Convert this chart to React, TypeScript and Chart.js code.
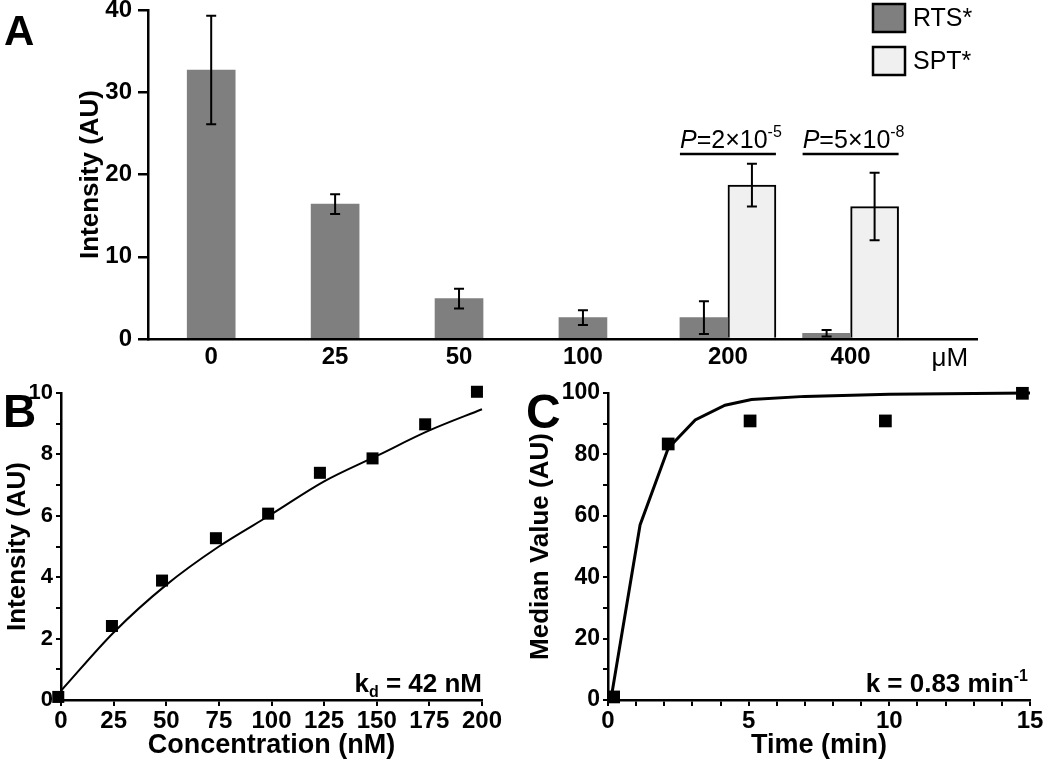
import React, { useEffect, useRef } from 'react';
import { Chart, registerables } from 'chart.js';
Chart.register(...registerables);

const FF = "'Liberation Sans', Arial, Helvetica, sans-serif";
const boldFont = (s: number) => ({ family: FF, size: s, weight: 'bold' as const });

// ---------- Panel A ----------
const doseLabels = ['0', '25', '50', '100', '200', '400'];
const doseUnit = 'μM';
const doseSlots = [0, 1, 2, 3, 4.17, 5.16];
const unitSlot = 5.96;
const seriesNames = ['RTS*', 'SPT*'];
const rtsMean = [32.7, 16.4, 4.9, 2.6, 2.6, 0.7];
const rtsErr = [6.6, 1.2, 1.2, 0.9, 2.0, 0.4];
const sptMean = [null, null, null, null, 18.7, 16.1];
const sptErr = [null, null, null, null, 2.6, 4.1];
const pSlotIndex = [4, 5];
const pMantissa = ['2', '5'];
const pExponent = ['-5', '-8'];
const pLevel = 22.5;

// ---------- Panel B ----------
const bConc = [-1.3, 24.2, 48, 73.6, 98.4, 123, 148, 173, 197.6];
const bIntensity = [0.1, 2.41, 3.89, 5.27, 6.07, 7.4, 7.87, 8.98, 10.04];
const bFitConc = [0, 25, 50, 75, 100, 125, 150, 175, 200];
const bFitIntensity = [0.3, 2.2, 3.75, 5.0, 6.05, 7.12, 7.95, 8.78, 9.47];

// ---------- Panel C ----------
const cTime = [0.2, 2.14, 5.05, 9.86, 14.73];
const cMedian = [1, 83.4, 90.9, 90.9, 99.9];
const cFitTime = [0.1, 1.14, 2.14, 3.1, 4.16, 5.1, 7, 10, 15];
const cFitMedian = [0, 57, 82, 91.2, 96, 97.9, 98.9, 99.6, 100];

type Seg = { t: string; font: string; dy?: number };
function drawSegs(ctx: CanvasRenderingContext2D, segs: Seg[], x: number, y: number, align: 'left' | 'right' | 'center') {
  ctx.save();
  ctx.textBaseline = 'alphabetic';
  ctx.textAlign = 'left';
  ctx.fillStyle = '#000';
  let w = 0;
  for (const s of segs) { ctx.font = s.font; w += ctx.measureText(s.t).width; }
  let cx = align === 'left' ? x : align === 'right' ? x - w : x - w / 2;
  for (const s of segs) {
    ctx.font = s.font;
    ctx.fillText(s.t, cx, y + (s.dy || 0));
    cx += ctx.measureText(s.t).width;
  }
  ctx.restore();
}

function letter(ctx: CanvasRenderingContext2D, t: string, x: number, y: number, size: number) {
  ctx.save();
  ctx.font = `bold ${size}px ${FF}`;
  ctx.fillStyle = '#000';
  ctx.textAlign = 'left';
  ctx.textBaseline = 'alphabetic';
  ctx.fillText(t, x, y);
  ctx.restore();
}

const zeroPad = (s: any) => { s.paddingTop = 0; s.paddingBottom = 0; s.paddingLeft = 0; s.paddingRight = 0; };

export default function App() {
  const refA = useRef<HTMLCanvasElement>(null);
  const refB = useRef<HTMLCanvasElement>(null);
  const refC = useRef<HTMLCanvasElement>(null);

  useEffect(() => {
    const errorBars = {
      id: 'errorBars',
      afterDatasetsDraw(chart: any) {
        const ctx = chart.ctx;
        const ys = chart.scales.y;
        chart.data.datasets.forEach((ds: any, i: number) => {
          const meta = chart.getDatasetMeta(i);
          meta.data.forEach((bar: any, j: number) => {
            const m = ds.means[j];
            const e = ds.errors[j];
            if (m == null || e == null) return;
            const top = ys.getPixelForValue(m + e);
            const bot = ys.getPixelForValue(Math.max(m - e, 0));
            ctx.save();
            ctx.strokeStyle = '#000';
            ctx.lineWidth = 2;
            ctx.beginPath();
            ctx.moveTo(bar.x, top); ctx.lineTo(bar.x, bot);
            ctx.moveTo(bar.x - 5, top); ctx.lineTo(bar.x + 5, top);
            ctx.moveTo(bar.x - 5, bot); ctx.lineTo(bar.x + 5, bot);
            ctx.stroke();
            ctx.restore();
          });
        });
      },
    };

    const annotA = {
      id: 'annotA',
      afterDraw(chart: any) {
        const ctx = chart.ctx;
        const ca = chart.chartArea;
        const ys = chart.scales.y;
        letter(ctx, 'A', 4, 45, 42);
        // legend
        const bx = ca.right - 104;
        chart.data.datasets.forEach((ds: any, i: number) => {
          const by = ca.top - 6 + i * 43;
          ctx.save();
          ctx.fillStyle = ds.backgroundColor;
          ctx.fillRect(bx, by, 32, 28);
          ctx.strokeStyle = '#000';
          ctx.lineWidth = 2.5;
          ctx.strokeRect(bx, by, 32, 28);
          ctx.font = `25px ${FF}`;
          ctx.fillStyle = '#000';
          ctx.textBaseline = 'middle';
          ctx.textAlign = 'left';
          ctx.fillText(ds.label, bx + 40, by + 15);
          ctx.restore();
        });
        // p-value annotations
        const m0 = chart.getDatasetMeta(0);
        const m1 = chart.getDatasetMeta(1);
        pSlotIndex.forEach((k, n) => {
          const b0 = m0.data[k];
          const b1 = m1.data[k];
          const left = b0.x - b0.width / 2;
          const right = b1.x + b1.width / 2;
          const yl = ys.getPixelForValue(pLevel);
          ctx.save();
          ctx.strokeStyle = '#000';
          ctx.lineWidth = 2.5;
          ctx.beginPath();
          ctx.moveTo(left, yl); ctx.lineTo(right, yl);
          ctx.stroke();
          ctx.restore();
          drawSegs(ctx, [
            { t: 'P', font: `italic 25px ${FF}` },
            { t: '=' + pMantissa[n] + '×10', font: `25px ${FF}` },
            { t: pExponent[n], font: `16px ${FF}`, dy: -11 },
          ], (left + right) / 2 + 3, yl - 6, 'center');
        });
      },
    };

    const chartA = new Chart(refA.current!, {
      type: 'bar',
      data: {
        datasets: [
          {
            label: seriesNames[0],
            data: doseSlots.map((x, i) => ({ x, y: rtsMean[i] })) as any,
            means: rtsMean, errors: rtsErr,
            backgroundColor: '#7f7f7f', borderWidth: 0, barThickness: 48, skipNull: true,
          } as any,
          {
            label: seriesNames[1],
            data: doseSlots.map((x, i) => ({ x, y: sptMean[i] })) as any,
            means: sptMean, errors: sptErr,
            backgroundColor: '#f0f0f0', borderColor: '#000', borderWidth: 2, barThickness: 48, skipNull: true,
          } as any,
        ],
      },
      options: {
        animation: false,
        responsive: false,
        devicePixelRatio: 1,
        layout: { padding: { left: 0, top: 10, right: 73, bottom: 0 } },
        plugins: { legend: { display: false }, tooltip: { enabled: false } },
        scales: {
          x: {
            type: 'linear', min: -0.51, max: 6.18, offset: false,
            afterBuildTicks: (s: any) => { s.ticks = [...doseSlots, unitSlot].map((v) => ({ value: v })); },
            afterFit: (s: any) => { s.height = 36; zeroPad(s); },
            ticks: {
              autoSkip: false, maxRotation: 0, color: '#000', padding: 4,
              callback: (_v: any, i: number) => (i < doseLabels.length ? doseLabels[i] : doseUnit),
              font: (c: any) => (c.index === doseLabels.length ? { family: FF, size: 26 } : boldFont(24)),
            },
            grid: { display: false, drawTicks: false },
            border: { color: '#000', width: 2.5 },
          } as any,
          y: {
            min: 0, max: 40,
            afterFit: (s: any) => { s.width = 148; zeroPad(s); },
            ticks: { stepSize: 10, color: '#000', font: boldFont(24), padding: 6 },
            grid: { drawOnChartArea: false, drawTicks: true, tickLength: 10, color: '#000', lineWidth: 2.5 },
            border: { color: '#000', width: 2.5 },
            title: { display: true, text: 'Intensity (AU)', color: '#000', font: boldFont(26), padding: { top: 75, bottom: 0 } },
          } as any,
        },
      },
      plugins: [errorBars, annotA],
    } as any);

    const annotB = {
      id: 'annotB',
      afterDraw(chart: any) {
        const ctx = chart.ctx;
        const ca = chart.chartArea;
        letter(ctx, 'B', 3, 52, 46);
        drawSegs(ctx, [
          { t: 'k', font: `bold 26px ${FF}` },
          { t: 'd', font: `bold 16px ${FF}`, dy: 5 },
          { t: ' = 42 nM', font: `bold 26px ${FF}` },
        ], ca.right, ca.bottom - 8, 'right');
      },
    };

    const chartB = new Chart(refB.current!, {
      type: 'scatter',
      data: {
        datasets: [
          {
            data: bFitConc.map((x, i) => ({ x, y: bFitIntensity[i] })),
            showLine: true, borderColor: '#000', borderWidth: 2, pointRadius: 0,
            cubicInterpolationMode: 'monotone', order: 2, clip: false,
          } as any,
          {
            data: bConc.map((x, i) => ({ x, y: bIntensity[i] })),
            showLine: false, pointStyle: 'rect', pointRadius: 8.5,
            backgroundColor: '#000', borderColor: '#000', borderWidth: 0, order: 1, clip: false,
          } as any,
        ],
      },
      options: {
        animation: false,
        responsive: false,
        devicePixelRatio: 1,
        layout: { padding: { left: 0, top: 18, right: 43, bottom: 0 } },
        plugins: { legend: { display: false }, tooltip: { enabled: false } },
        scales: {
          x: {
            type: 'linear', min: 0, max: 200,
            afterFit: (s: any) => { s.height = 62; zeroPad(s); },
            ticks: { stepSize: 25, color: '#000', font: boldFont(24), padding: 1, maxRotation: 0, autoSkip: false },
            grid: { drawOnChartArea: false, tickLength: 6, color: '#000', lineWidth: 2 },
            border: { color: '#000', width: 2.5 },
            title: { display: true, text: 'Concentration (nM)', color: '#000', font: boldFont(27), padding: { top: 0, bottom: 0 } },
          } as any,
          y: {
            min: 0, max: 10,
            afterFit: (s: any) => { s.width = 61; zeroPad(s); },
            ticks: {
              stepSize: 1, color: '#000', font: boldFont(22), padding: 3, autoSkip: false,
              callback: (v: any) => (Number(v) % 2 === 0 ? String(v) : ''),
            },
            grid: { drawOnChartArea: false, tickLength: 5, color: '#000', lineWidth: 2 },
            border: { color: '#000', width: 2.5 },
            title: { display: true, text: 'Intensity (AU)', color: '#000', font: boldFont(26), padding: { top: 2, bottom: 0 } },
          } as any,
        },
      },
      plugins: [annotB],
    } as any);

    const annotC = {
      id: 'annotC',
      afterDraw(chart: any) {
        const ctx = chart.ctx;
        const ca = chart.chartArea;
        letter(ctx, 'C', 1, 53, 48);
        drawSegs(ctx, [
          { t: 'k = 0.83 min', font: `bold 26px ${FF}` },
          { t: '-1', font: `bold 16px ${FF}`, dy: -11 },
        ], ca.right - 2, ca.bottom - 8, 'right');
      },
    };

    const chartC = new Chart(refC.current!, {
      type: 'scatter',
      data: {
        datasets: [
          {
            data: cFitTime.map((x, i) => ({ x, y: cFitMedian[i] })),
            showLine: true, borderColor: '#000', borderWidth: 3, pointRadius: 0, tension: 0, order: 2, clip: false,
          } as any,
          {
            data: cTime.map((x, i) => ({ x, y: cMedian[i] })),
            showLine: false, pointStyle: 'rect', pointRadius: 9,
            backgroundColor: '#000', borderColor: '#000', borderWidth: 0, order: 1, clip: false,
          } as any,
        ],
      },
      options: {
        animation: false,
        responsive: false,
        devicePixelRatio: 1,
        layout: { padding: { left: 0, top: 18, right: 20, bottom: 0 } },
        plugins: { legend: { display: false }, tooltip: { enabled: false } },
        scales: {
          x: {
            type: 'linear', min: 0, max: 15,
            afterFit: (s: any) => { s.height = 62; zeroPad(s); },
            ticks: {
              stepSize: 1, color: '#000', font: boldFont(24), padding: 1, maxRotation: 0, autoSkip: false,
              callback: (v: any) => (Number(v) % 5 === 0 ? String(v) : ''),
            },
            grid: { drawOnChartArea: false, tickLength: 6, color: '#000', lineWidth: 2 },
            border: { color: '#000', width: 2.5 },
            title: { display: true, text: 'Time (min)', color: '#000', font: boldFont(27), padding: { top: 0, bottom: 0 } },
          } as any,
          y: {
            min: 0, max: 100,
            afterFit: (s: any) => { s.width = 83; zeroPad(s); },
            ticks: {
              stepSize: 10, color: '#000', font: boldFont(23), padding: 3, autoSkip: false,
              callback: (v: any) => (Number(v) % 20 === 0 ? String(v) : ''),
            },
            grid: { drawOnChartArea: false, tickLength: 5, color: '#000', lineWidth: 2 },
            border: { color: '#000', width: 2.5 },
            title: { display: true, text: 'Median Value (AU)', color: '#000', font: boldFont(26), padding: { top: 0, bottom: 0 } },
          } as any,
        },
      },
      plugins: [annotC],
    } as any);

    return () => { chartA.destroy(); chartB.destroy(); chartC.destroy(); };
  }, []);

  return (
    <div style={{ position: 'absolute', left: 0, top: 0, width: 1050, height: 762, background: '#fff', overflow: 'hidden' }}>
      <canvas ref={refA} width={1050} height={375} style={{ position: 'absolute', left: 0, top: 0, width: 1050, height: 375 }} />
      <canvas ref={refB} width={525} height={387} style={{ position: 'absolute', left: 0, top: 375, width: 525, height: 387 }} />
      <canvas ref={refC} width={525} height={387} style={{ position: 'absolute', left: 525, top: 375, width: 525, height: 387 }} />
    </div>
  );
}
